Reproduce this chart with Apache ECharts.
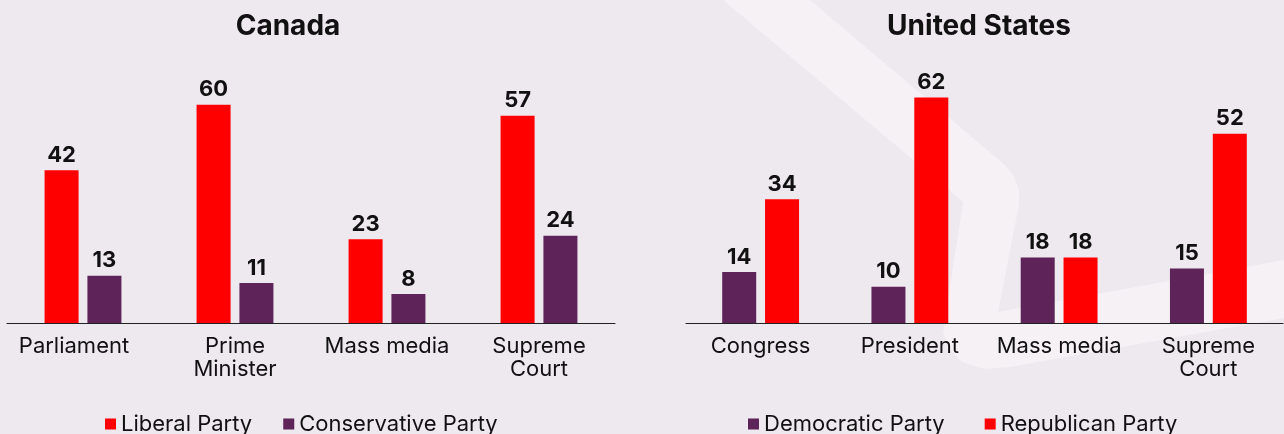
<!DOCTYPE html>
<html>
<head>
<meta charset="utf-8">
<script src="https://cdn.jsdelivr.net/npm/echarts@6/dist/echarts.min.js"></script>
<style>
html,body{margin:0;padding:0;background:#EEE8EF;}
#chart{width:1284px;height:434px;}
</style>
</head>
<body>
<div id="chart"></div>
<script>
const caCategories = ['Parliament', 'Prime\nMinister', 'Mass media', 'Supreme\nCourt'];
const caLiberal = [42, 60, 23, 57];
const caConservative = [13, 11, 8, 24];

const usCategories = ['Congress', 'President', 'Mass media', 'Supreme\nCourt'];
const usDemocratic = [14, 10, 18, 15];
const usRepublican = [34, 62, 18, 52];

const RED = '#FF0000';
const PURPLE = '#5E2358';
const TEXT = '#111111';
const FONT = 'Inter, "DejaVu Sans", sans-serif';

const chart = echarts.init(document.getElementById('chart'));

const labelCfg = {
  show: true, position: 'top', distance: 4,
  fontFamily: FONT, fontWeight: 'bold', fontSize: 22, color: TEXT
};

function xAxisCfg(gridIndex, data) {
  return {
    type: 'category', gridIndex, data,
    axisTick: { show: false },
    axisLine: { lineStyle: { color: '#222', width: 1.2 } },
    axisLabel: {
      interval: 0, fontFamily: FONT, fontSize: 22, color: TEXT, lineHeight: 23, margin: 12,
      formatter: (v, i) => (gridIndex === 0 && i === 0) ? '{p|' + v + '}' : v,
      rich: { p: { fontFamily: FONT, fontSize: 22, color: TEXT, lineHeight: 23, padding: [0, 18, 0, 0] } }
    }
  };
}
function yAxisCfg(gridIndex) {
  return { type: 'value', gridIndex, min: 0, max: 80, show: false, splitLine: { show: false } };
}
function barSeries(name, data, color, idx) {
  return {
    name, type: 'bar', data, xAxisIndex: idx, yAxisIndex: idx,
    barWidth: 34, barGap: '26%',
    itemStyle: { color },
    label: labelCfg
  };
}

chart.setOption({
  backgroundColor: '#EEE8EF',
  animation: false,
  graphic: [
    {
      type: 'polygon', z: -10, silent: true,
      shape: { points: [
        [723, 0], [810, 0], [1004, 164], [1014, 176], [1019, 190], [1019, 205],
        [998, 312], [1284, 260], [1284, 318], [1010, 367], [985, 369], [962, 362],
        [948, 348], [943, 332], [963, 202]
      ] },
      style: { fill: '#F5F1F5' }
    },
    {
      type: 'text', x: 288, y: 27, silent: true,
      style: { text: 'Canada', x: 0, y: 0, align: 'center', verticalAlign: 'middle',
        fontFamily: FONT, fontWeight: 'bold', fontSize: 28, fill: TEXT }
    },
    {
      type: 'text', x: 979, y: 27, silent: true,
      style: { text: 'United States', x: 0, y: 0, align: 'center', verticalAlign: 'middle',
        fontFamily: FONT, fontWeight: 'bold', fontSize: 28, fill: TEXT }
    }
  ],
  legend: [
    {
      data: ['Liberal Party', 'Conservative Party'],
      left: 100, top: 408, icon: 'rect', itemWidth: 11, itemHeight: 11, itemGap: 31,
      textStyle: { fontFamily: FONT, fontSize: 22, color: TEXT }
    },
    {
      data: ['Democratic Party', 'Republican Party'],
      left: 743, top: 408, icon: 'rect', itemWidth: 11, itemHeight: 11, itemGap: 40,
      textStyle: { fontFamily: FONT, fontSize: 22, color: TEXT }
    }
  ],
  grid: [
    { left: 7, width: 608, top: 32, height: 291 },
    { left: 686, width: 597, top: 32, height: 291 }
  ],
  xAxis: [xAxisCfg(0, caCategories), xAxisCfg(1, usCategories)],
  yAxis: [yAxisCfg(0), yAxisCfg(1)],
  series: [
    barSeries('Liberal Party', caLiberal, RED, 0),
    barSeries('Conservative Party', caConservative, PURPLE, 0),
    barSeries('Democratic Party', usDemocratic, PURPLE, 1),
    barSeries('Republican Party', usRepublican, RED, 1)
  ]
});
</script>
</body>
</html>
